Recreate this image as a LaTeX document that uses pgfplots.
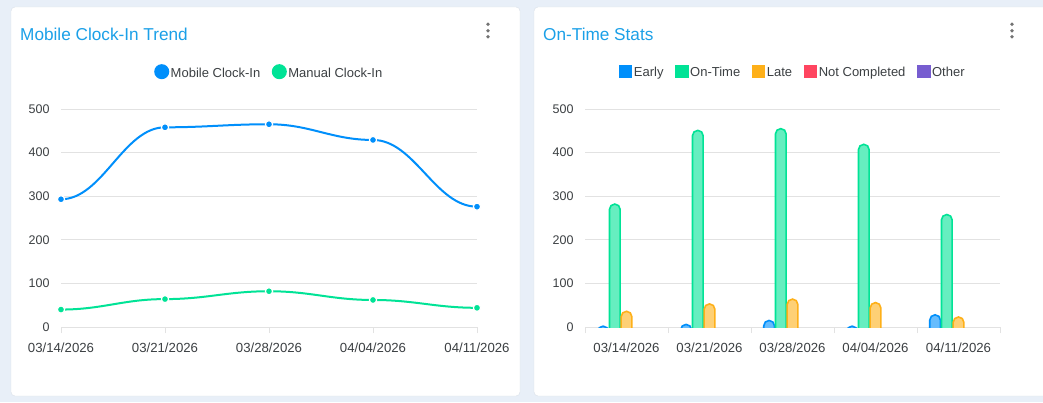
\documentclass[border=0pt]{standalone}
\usepackage{pgfplots}
\usepackage{pgfplotstable}
\pgfplotsset{compat=1.18}
\usepackage{fontspec}
\setmainfont{Liberation Sans}

\definecolor{pagebg}{RGB}{232,239,248}
\definecolor{cardborder}{RGB}{218,224,232}
\definecolor{titleblue}{RGB}{27,160,232}
\definecolor{cBlue}{HTML}{008FFB}
\definecolor{cGreen}{HTML}{00E396}
\definecolor{cYellow}{HTML}{FEB019}
\definecolor{cRed}{HTML}{FF4560}
\definecolor{cPurple}{HTML}{775DD0}
\definecolor{gridc}{RGB}{226,226,226}
\definecolor{txt}{RGB}{60,64,67}

% weekly values
\pgfplotstableread{
idx mobile manual early ontime late notcompleted other
0   293    40     2     282    36   0            0
1   458    64     6     451    53   0            0
2   465    82     15    455    64   0            0
3   429    62     2     419    56   0            0
4   276    44     28    258    23   0            0
}\weeks

\makeatletter
% curve with flat tangents at each point (like the dashboard's "smooth" lines)
\newdimen\hs@px \newdimen\hs@py \newdimen\hs@cx \newdimen\hs@cy
\newdimen\hs@dx \newdimen\hs@ax \newdimen\hs@bx
\newif\ifhs@first
\def\hs@point#1{%
  \pgf@process{#1}%
  \global\hs@cx=\pgf@x \global\hs@cy=\pgf@y
  \ifhs@first
    \pgfpathmoveto{\pgfqpoint{\hs@cx}{\hs@cy}}%
    \global\hs@firstfalse
  \else
    \global\hs@dx=\hs@cx \global\advance\hs@dx by -\hs@px
    \global\hs@dx=0.4\hs@dx
    \global\hs@ax=\hs@px \global\advance\hs@ax by \hs@dx
    \global\hs@bx=\hs@cx \global\advance\hs@bx by -\hs@dx
    \pgfpathcurveto{\pgfqpoint{\hs@ax}{\hs@py}}{\pgfqpoint{\hs@bx}{\hs@cy}}{\pgfqpoint{\hs@cx}{\hs@cy}}%
  \fi
  \global\hs@px=\hs@cx \global\hs@py=\hs@cy
}
\pgfdeclareplothandler{\pgfplothandlerhsmooth}{}{%
  start={\global\hs@firsttrue},
  point macro=\hs@point,
}
% bars with a round top; the part below the x axis is clipped away
\newdimen\hb@l \newdimen\hb@r \newdimen\hb@top \newdimen\hb@bot
\def\hbarshift{0pt}
\def\hb@point#1{%
  \pgf@process{#1}%
  \global\hb@l=\pgf@x \global\advance\hb@l by \hbarshift
  \global\advance\hb@l by -5.35pt
  \global\hb@r=\hb@l \global\advance\hb@r by 10.7pt
  \global\hb@top=\pgf@y \global\advance\hb@top by -5.35pt
  \global\hb@bot=\pgf@y \global\advance\hb@bot by -300pt
  \pgfpathmoveto{\pgfqpoint{\hb@l}{\hb@bot}}%
  \pgfpathlineto{\pgfqpoint{\hb@l}{\hb@top}}%
  \pgfpatharc{180}{0}{5.35pt}%
  \pgfpathlineto{\pgfqpoint{\hb@r}{\hb@bot}}%
  \pgfpathclose
}
\pgfdeclareplothandler{\pgfplothandlerhbar}{}{%
  point macro=\hb@point,
}
\tikzset{
  hsmooth/.code={\let\tikz@plot@handler=\pgfplothandlerhsmooth},
  hbar/.code={\def\hbarshift{#1}\let\tikz@plot@handler=\pgfplothandlerhbar},
}
\makeatother

\pgfplotsset{
  card/.style={
    scale only axis, width=416pt, height=218pt,
    ymin=0, ymax=500, ytick={0,100,...,500},
    ymajorgrids, grid style={gridc, line width=0.8pt},
    axis x line*=bottom, axis y line*=left,
    y axis line style={draw=none},
    x axis line style={gridc, line width=1pt},
    tick align=outside, major tick length=6pt,
    ytick style={draw=none},
    xtick style={gridc, line width=1pt},
    xtick={0,...,4},
    xticklabels={03/14/2026,03/21/2026,03/28/2026,04/04/2026,04/11/2026},
    ticklabel style={font=\fontsize{12.5}{15}\selectfont, text=txt},
    xticklabel style={yshift=-6pt, font=\fontsize{13.2}{15}\selectfont},
    yticklabel style={xshift=-2pt},
    /pgf/number format/assume math mode=true,
    legend style={at={(0.5,1.169)}, anchor=center, draw=none, fill=none,
      legend columns=-1, font=\fontsize{13}{15}\selectfont,
      nodes={inner sep=1.5pt, text=txt},
      /tikz/every even column/.append style={column sep=10pt}},
  },
  dot/.style={legend image code/.code={\fill[#1] (0pt,1.5pt) circle (6.5pt);}},
  sq/.style={legend image code/.code={\fill[#1] (-6pt,-4.5pt) rectangle (6pt,7.5pt);}},
}

\begin{document}
\begin{tikzpicture}[x=1pt,y=1pt]
\path[use as bounding box] (0,0) rectangle (1043,402);
\fill[pagebg] (0,0) rectangle (1043,402);
\filldraw[fill=white, draw=cardborder, rounded corners=4pt] (11,6) rectangle (520,395);
\filldraw[fill=white, draw=cardborder, rounded corners=4pt] (534,6) rectangle (1060,395);

\node[anchor=base west, inner sep=0, text=titleblue, font=\fontsize{17.2}{20}\selectfont] at (20,361) {Mobile Clock-In Trend};
\node[anchor=base west, inner sep=0, text=titleblue, font=\fontsize{17.2}{20}\selectfont] at (543,361) {On-Time Stats};
\foreach \y in {377.7,371.3,365.3} {
  \fill[black!55] (488,\y) circle (1.9);
  \fill[black!55] (1012,\y) circle (1.9);
}

% left: line chart
\begin{axis}[card, at={(61pt,75pt)}, anchor=south west,
  xmin=0, xmax=4, clip=false]
\addplot[cBlue, line width=2pt, hsmooth, dot=cBlue,
  mark=*, mark size=3.6pt, mark options={fill=cBlue, draw=white, line width=1.2pt}]
  table[x=idx, y=mobile] {\weeks};
\addlegendentry{Mobile Clock-In}
\addplot[cGreen, line width=2pt, hsmooth, dot=cGreen,
  mark=*, mark size=3.6pt, mark options={fill=cGreen, draw=white, line width=1.2pt}]
  table[x=idx, y=manual] {\weeks};
\addlegendentry{Manual Clock-In}
\end{axis}

% right: grouped bars
\begin{axis}[card, at={(585pt,75pt)}, anchor=south west, width=415pt,
  xmin=-0.5, xmax=4.5,
  major x tick style={draw=none},
  minor xtick={-0.5,0.5,...,4.5}, minor tick length=6pt,
  minor x tick style={gridc, line width=1pt},
  every axis plot/.append style={line width=1.6pt, no marks}]
\addplot[draw=cBlue, fill=cBlue!60!white, hbar=-23.4pt, sq=cBlue]
  table[x=idx, y=early] {\weeks};
\addlegendentry{Early}
\addplot[draw=cGreen, fill=cGreen!60!white, hbar=-11.7pt, sq=cGreen]
  table[x=idx, y=ontime] {\weeks};
\addlegendentry{On-Time}
\addplot[draw=cYellow, fill=cYellow!60!white, hbar=0pt, sq=cYellow]
  table[x=idx, y=late] {\weeks};
\addlegendentry{Late}
\addlegendimage{sq=cRed}
\addlegendentry{Not Completed}
\addlegendimage{sq=cPurple}
\addlegendentry{Other}
\end{axis}
\end{tikzpicture}
\end{document}
